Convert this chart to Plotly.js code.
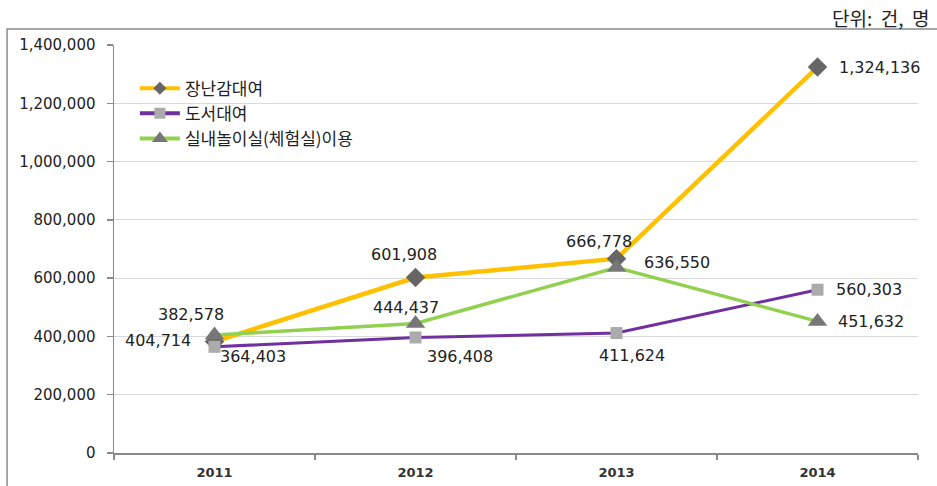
<!DOCTYPE html>
<html>
<head>
<meta charset="utf-8">
<script src="https://cdn.plot.ly/plotly-3.0.1.min.js"></script>
<style>html,body{margin:0;padding:0;background:#fff;}#chart{width:937px;height:486px;}</style>
</head>
<body>
<div id="chart"></div>
<script>
const years = ['2011', '2012', '2013', '2014'];
const toyRental = [382578, 601908, 666778, 1324136];
const bookRental = [364403, 396408, 411624, 560303];
const playroomUse = [404714, 444437, 636550, 451632];
const seriesNames = ['장난감대여', '도서대여', '실내놀이실(체험실)이용'];
const unitText = '단위:\u00a0 건,\u00a0 명';

// label offsets in pixels (layout only)
const toyOff = [[-24, 27], [-12, 23], [-18, 17], [62, 0]];
const bookOff = [[38, -10], [44, -19], [15, -22], [51, 0]];
const playOff = [[-57, -5], [-10, 16], [60, 5], [53, 0]];

const fmt = v => v.toLocaleString('en-US');
const styles = [
  {line: {color: '#FFC000', width: 4.5}, marker: {symbol: 'diamond', size: 15, color: '#666666'}, legMarker: 10},
  {line: {color: '#7030A0', width: 3}, marker: {symbol: 'square', size: 12, color: '#ABABAB'}, legMarker: 11},
  {line: {color: '#92D050', width: 3.5}, marker: {symbol: 'triangle-up', size: 17, color: '#777777'}, legMarker: 14}
];
const seriesData = [toyRental, bookRental, playroomUse];
const traces = [];
seriesData.forEach((vals, k) => {
  traces.push({x: years, y: vals, name: seriesNames[k], type: 'scatter', mode: 'lines+markers',
    line: styles[k].line, marker: styles[k].marker, showlegend: false});
});
// legend entries with smaller markers (no data)
seriesData.forEach((vals, k) => {
  traces.push({x: [null], y: [null], name: seriesNames[k], type: 'scatter', mode: 'lines+markers',
    line: {color: styles[k].line.color, width: 4},
    marker: {symbol: styles[k].marker.symbol, size: styles[k].legMarker, color: styles[k].marker.color},
    showlegend: true});
});
const labelFont = {family: 'DejaVu Sans, Verdana, sans-serif', size: 16, color: '#222'};
const annotations = [];
[[toyRental, toyOff], [bookRental, bookOff], [playroomUse, playOff]].forEach(([vals, offs]) => {
  vals.forEach((v, i) => {
    annotations.push({x: i, y: v, xref: 'x', yref: 'y', text: fmt(v), showarrow: false,
      xshift: offs[i][0], yshift: offs[i][1], font: labelFont});
  });
});
annotations.push({xref: 'paper', yref: 'paper', x: 1.0174, y: 1.0686, xanchor: 'right', yanchor: 'middle',
  text: unitText, showarrow: false, font: {family: 'Noto Sans CJK KR, sans-serif', size: 19, color: '#222'}});

const layout = {
  width: 937, height: 486,
  margin: {l: 114, r: 19, t: 45, b: 33},
  paper_bgcolor: '#fff', plot_bgcolor: '#fff',
  showlegend: true,
  legend: {x: 0.026, y: 0.937, xanchor: 'left', yanchor: 'top', bgcolor: 'rgba(0,0,0,0)',
    font: {family: 'Noto Sans CJK KR, sans-serif', size: 17, color: '#222'}, tracegroupgap: 0, itemwidth: 40},
  xaxis: {type: 'category', range: [-0.5, 3.5], showgrid: false, showline: true, linecolor: '#8a8a8a', linewidth: 1.5,
    ticks: 'outside', tickson: 'boundaries', ticklen: 5, tickcolor: '#8a8a8a', tickwidth: 1.5, ticklabelstandoff: 7,
    tickfont: {family: 'DejaVu Sans, Verdana, sans-serif', size: 13, color: '#333', weight: 'bold'}, fixedrange: true},
  yaxis: {range: [0, 1400000], dtick: 200000, tickformat: ',d', showgrid: true, gridcolor: '#d9d9d9', gridwidth: 1,
    zeroline: false, showline: true, linecolor: '#8a8a8a', linewidth: 1.5, ticks: 'outside', ticklen: 6,
    tickcolor: '#8a8a8a', tickwidth: 1.5, ticklabelstandoff: 8,
    tickfont: {family: 'DejaVu Sans, Verdana, sans-serif', size: 15, color: '#222'}, fixedrange: true},
  shapes: [{type: 'rect', xref: 'paper', yref: 'paper', x0: -0.133, x1: 1.2, y0: -0.3, y1: 1.039,
    line: {color: '#8a8a8a', width: 1.5}, fillcolor: 'rgba(0,0,0,0)', layer: 'below'}],
  annotations: annotations
};
Plotly.newPlot('chart', traces, layout, {displayModeBar: false, staticPlot: true});
</script>
</body>
</html>
